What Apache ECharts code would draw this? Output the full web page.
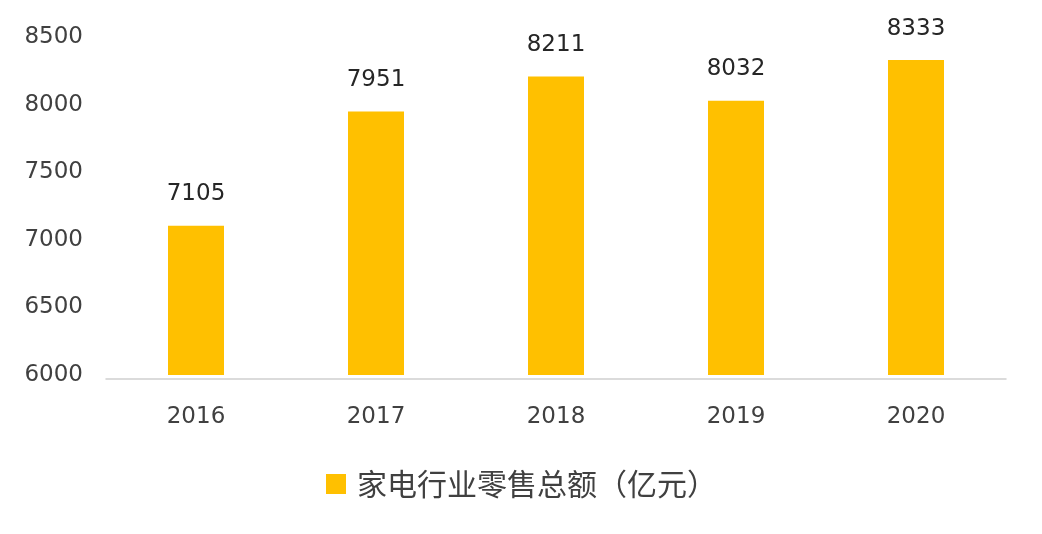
<!DOCTYPE html>
<html><head><meta charset="utf-8">
<script src="https://cdn.jsdelivr.net/npm/echarts@6/dist/echarts.min.js"></script>
<style>html,body{margin:0;padding:0;background:#fff}#c{width:1042px;height:534px}</style>
</head><body><div id="c"></div>
<script>
const categories = ['2016', '2017', '2018', '2019', '2020'];
const values = [7105, 7951, 8211, 8032, 8333];
const seriesName = '家电行业零售总额（亿元）';
const yTicks = [6000, 6500, 7000, 7500, 8000, 8500];

const chart = echarts.init(document.getElementById('c'));
chart.setOption({
  backgroundColor: '#ffffff',
  animation: false,
  grid: { left: 106, right: 36, top: 37.5, bottom: 159 },
  legend: {
    data: [seriesName],
    left: 326,
    top: 469,
    padding: 0,
    icon: 'rect',
    itemWidth: 20,
    itemHeight: 20,
    textStyle: { fontFamily: 'Noto Sans CJK SC', fontSize: 30, color: '#404040', padding: [0, 0, 0, 6] }
  },
  xAxis: {
    type: 'category',
    data: categories,
    offset: 4,
    axisLine: { lineStyle: { color: '#d0d0d0', width: 1.5 } },
    axisTick: { show: false },
    axisLabel: { margin: 27, fontFamily: 'DejaVu Sans', fontSize: 23, color: '#404040' }
  },
  yAxis: {
    type: 'value',
    min: yTicks[0],
    max: yTicks[yTicks.length - 1],
    interval: 500,
    splitLine: { show: false },
    axisLine: { show: false },
    axisTick: { show: false },
    axisLabel: { margin: 23, fontFamily: 'DejaVu Sans', fontSize: 23, color: '#404040', formatter: (v) => String(v) }
  },
  series: [{
    name: seriesName,
    type: 'bar',
    data: values,
    barWidth: 56,
    itemStyle: { color: '#FFC000' },
    label: {
      show: true,
      position: 'top',
      distance: 20,
      fontFamily: 'DejaVu Sans',
      fontSize: 23,
      color: '#262626'
    }
  }]
});
</script>
</body></html>
